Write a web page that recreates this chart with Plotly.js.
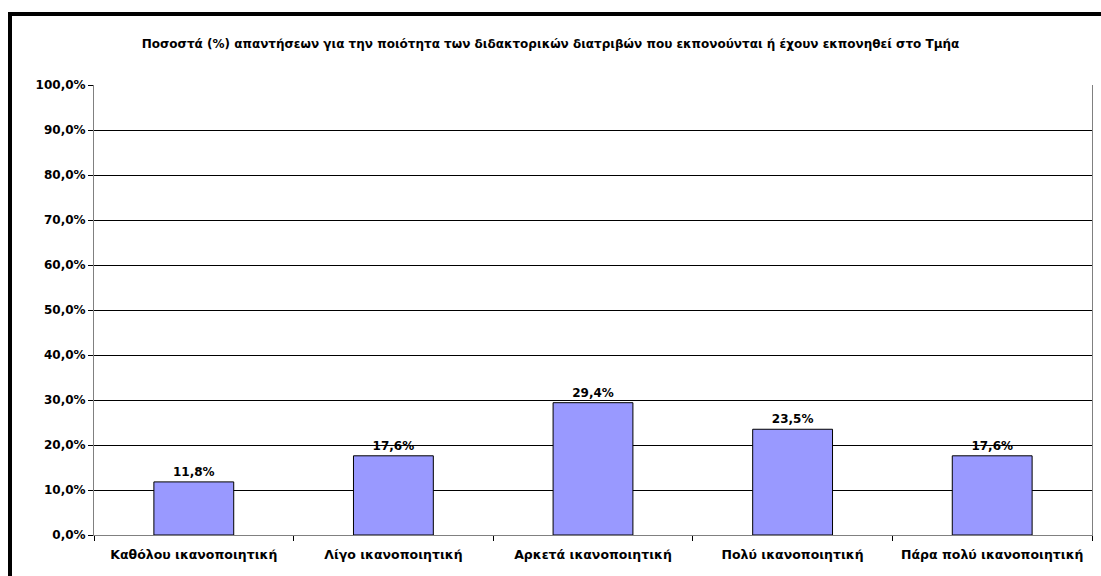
<!DOCTYPE html>
<html>
<head>
<meta charset="utf-8">
<script src="https://cdn.plot.ly/plotly-3.0.1.min.js"></script>
<style>
html,body{margin:0;padding:0;background:#fff;overflow:hidden;}
#wrap{position:relative;width:1101px;height:576px;}
#chart{position:absolute;left:0;top:0;width:1101px;height:576px;}
#frame{position:absolute;left:8px;top:12px;width:1200px;height:700px;border-left:4px solid #000;border-top:4px solid #000;pointer-events:none;}
</style>
</head>
<body>
<div id="wrap"><div id="chart"></div><div id="frame"></div></div>
<script>
const titleText = "Ποσοστά (%) απαντήσεων για την ποιότητα των διδακτορικών διατριβών που εκπονούνται ή έχουν εκπονηθεί στο Τμήα";
const categories = ["Καθόλου ικανοποιητική", "Λίγο ικανοποιητική", "Αρκετά ικανοποιητική", "Πολύ ικανοποιητική", "Πάρα πολύ ικανοποιητική"];
const values = [11.8, 17.6, 29.4, 23.5, 17.6];
const yTicks = [0,10,20,30,40,50,60,70,80,90,100];
const yTickLabels = ["0,0%","10,0%","20,0%","30,0%","40,0%","50,0%","60,0%","70,0%","80,0%","90,0%","100,0%"];

const fontFam = "DejaVu Sans, Arial, sans-serif";
const trace = {
  type: "bar",
  x: categories,
  y: values,
  width: 0.4,
  marker: {color: "#9999FF", line: {color: "#000000", width: 1}},
  texttemplate: "%{y:.1f}%",
  textposition: "outside",
  textfont: {family: fontFam, size: 12, color: "#000", weight: "bold"},
  cliponaxis: false,
  hoverinfo: "none"
};
const layout = {
  width: 1101, height: 576,
  margin: {l: 94, r: 9, t: 85, b: 41, pad: 0},
  paper_bgcolor: "#fff", plot_bgcolor: "#fff",
  separators: ",.",
  showlegend: false,
  title: {text: "<b>" + titleText + "</b>", font: {family: fontFam, size: 12, color: "#000", weight: "bold"}, x: 0.5, xanchor: "center", y: 1 - 44/576, yanchor: "middle"},
  xaxis: {
    type: "category",
    tickson: "boundaries",
    ticks: "outside", ticklen: 5, tickcolor: "#000", tickwidth: 1,
    ticklabelstandoff: 8,
    showline: true, linecolor: "#808080", linewidth: 1,
    showgrid: false,
    tickfont: {family: fontFam, size: 12.5, color: "#000", weight: "bold"},
    range: [-0.5, 4.5]
  },
  yaxis: {
    range: [0, 100],
    tickmode: "array",
    tickvals: yTicks,
    ticktext: yTickLabels,
    ticks: "outside", ticklen: 5, tickcolor: "#000", tickwidth: 1,
    showline: true, linecolor: "#808080", linewidth: 1, mirror: true,
    showgrid: true, gridcolor: "#000", gridwidth: 1,
    zeroline: false,
    tickfont: {family: fontFam, size: 12, color: "#000", weight: "bold"}
  },
  bargap: 0.6
};
Plotly.newPlot("chart", [trace], layout, {staticPlot: true, displayModeBar: false});
</script>
</body>
</html>
